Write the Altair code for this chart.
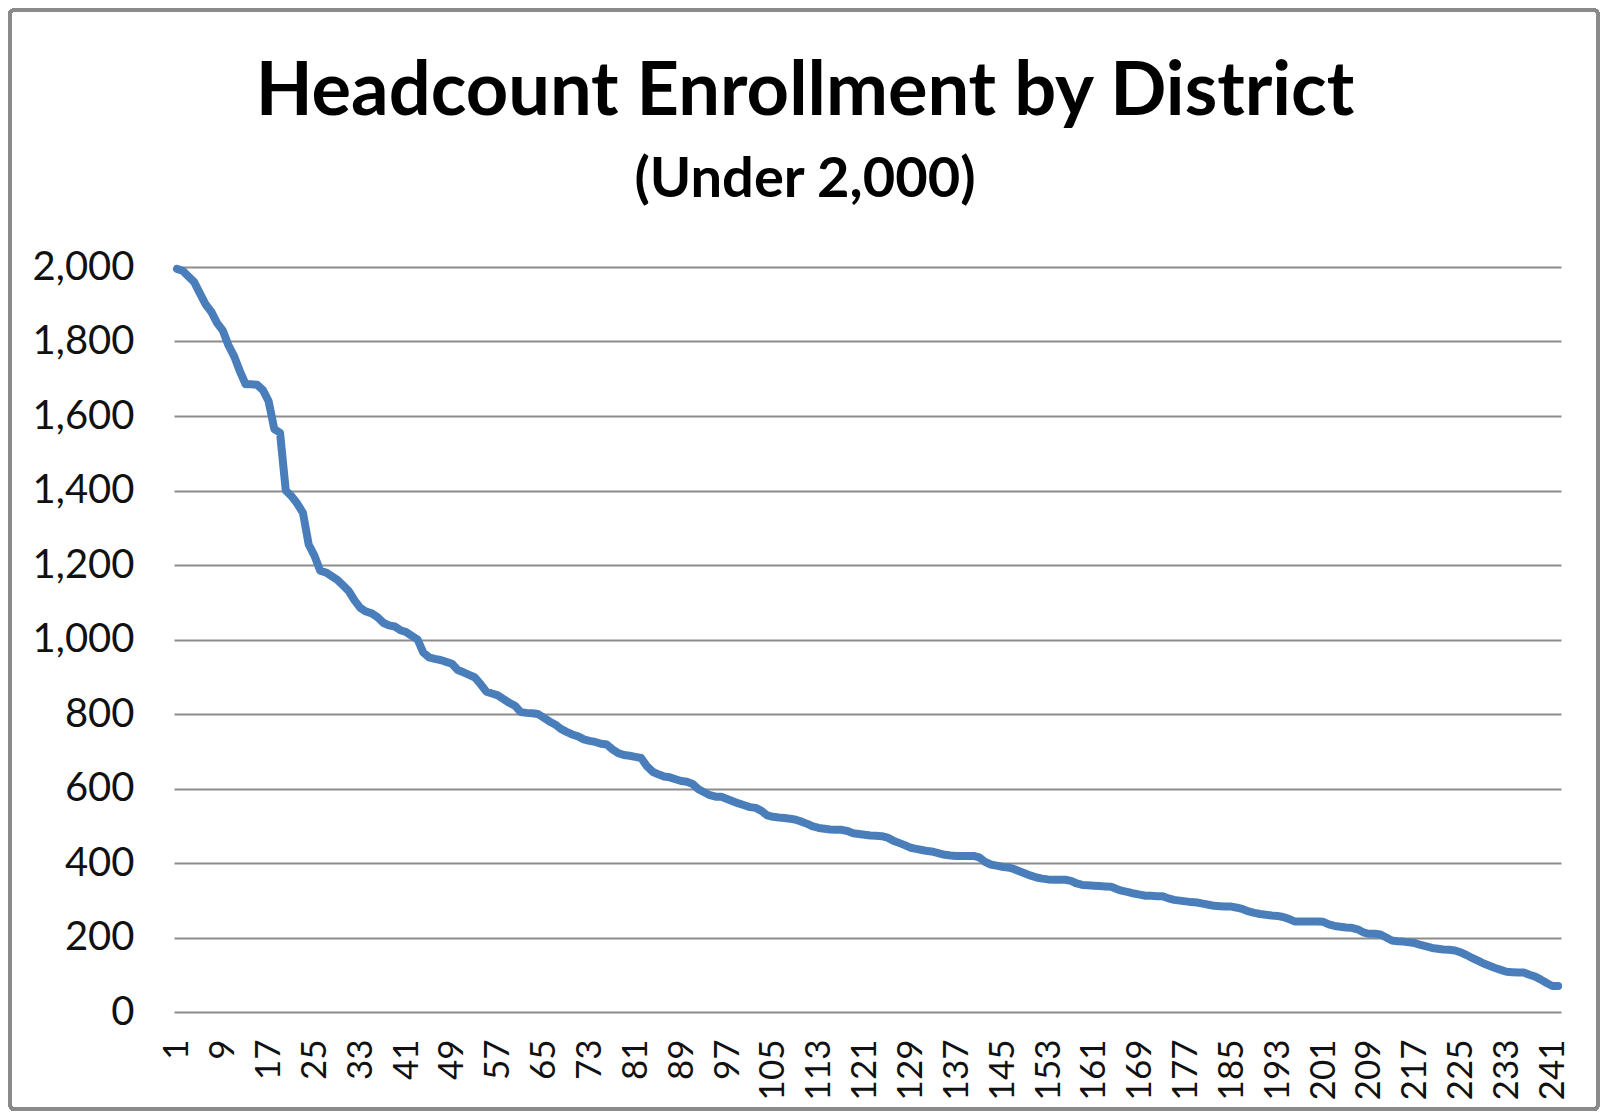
import altair as alt
import pandas as pd

enrollment = [
    1995, 1990, 1975, 1960, 1930, 1900, 1880, 1850, 1830, 1790,
    1760, 1720, 1685, 1685, 1684, 1670, 1640, 1565, 1555, 1400,
    1385, 1365, 1340, 1255, 1225, 1185, 1180, 1170, 1160, 1145,
    1130, 1105, 1085, 1075, 1070, 1060, 1045, 1038, 1035, 1025,
    1020, 1010, 1000, 965, 952, 948, 945, 940, 935, 918,
    912, 905, 898, 880, 860, 855, 850, 840, 830, 822,
    805, 803, 802, 800, 790, 780, 772, 760, 752, 745,
    740, 732, 728, 725, 720, 718, 705, 695, 690, 688,
    685, 682, 660, 645, 638, 632, 630, 625, 620, 618,
    612, 598, 590, 582, 578, 578, 572, 566, 560, 555,
    550, 548, 540, 528, 524, 522, 521, 519, 516, 511,
    505, 498, 494, 492, 490, 489, 489, 486, 480, 478,
    476, 474, 473, 472, 468, 460, 454, 448, 441, 438,
    435, 432, 430, 426, 422, 420, 419, 419, 419, 419,
    415, 403, 396, 393, 390, 388, 384, 378, 372, 366,
    361, 358, 356, 355, 355, 355, 352, 345, 341, 340,
    339, 338, 337, 336, 330, 325, 322, 318, 315, 312,
    312, 311, 311, 305, 301, 299, 297, 295, 294, 291,
    288, 285, 284, 283, 283, 280, 276, 270, 266, 263,
    261, 259, 258, 255, 250, 243, 243, 243, 243, 243,
    242, 235, 231, 229, 227, 226, 222, 214, 210, 210,
    208, 200, 192, 190, 189, 187, 185, 180, 176, 172,
    170, 168, 167, 165, 160, 153, 145, 138, 130, 124,
    118, 113, 108, 107, 106, 106, 100, 95, 87, 78,
    70, 70,
]
district = list(range(1, len(enrollment) + 1))
x_tick_labels = list(range(1, 242, 8))
y_ticks = [0, 200, 400, 600, 800, 1000, 1200, 1400, 1600, 1800, 2000]

title_text = ["Headcount Enrollment by District"]
subtitle_text = ["(Under 2,000)"]

df = pd.DataFrame({"district": district, "enrollment": enrollment})

FONT = "Lato"
W, H = 1387, 745

line = alt.Chart(df).mark_line(
    color="#4a7ebb", strokeWidth=8, strokeJoin="round", strokeCap="round"
).encode(
    x=alt.X(
        "district:Q",
        scale=alt.Scale(domain=[0.5, len(enrollment) + 0.5], nice=False, zero=False),
        axis=alt.Axis(
            values=x_tick_labels,
            labelAngle=-90,
            labelFontSize=35,
            labelFont=FONT,
            labelColor="#111111",
            labelPadding=27,
            ticks=False,
            domain=False,
            grid=False,
            title=None,
            labelOverlap=False,
        ),
    ),
    y=alt.Y(
        "enrollment:Q",
        scale=alt.Scale(domain=[0, 2000], nice=False),
        axis=alt.Axis(
            values=y_ticks,
            format=",d",
            labelFontSize=40,
            labelFont=FONT,
            labelColor="#111111",
            labelPadding=40,
            ticks=False,
            domain=False,
            grid=True,
            gridColor="#8c8c8c",
            gridWidth=2.2,
            title=None,
        ),
    ),
)

frame = alt.Chart(df).mark_rect(
    fill=None, stroke="#8a8a8a", strokeWidth=3, cornerRadius=4
).encode(
    x=alt.value(-164),
    x2=alt.value(W + 37),
    y=alt.value(-257),
    y2=alt.value(H + 97),
)

title = alt.Chart(pd.DataFrame({"t": title_text})).mark_text(
    font=FONT, fontSize=74, fontWeight="bold", color="#000000",
    align="center", baseline="alphabetic",
).encode(text="t:N", x=alt.value(631), y=alt.value(-152))

subtitle = alt.Chart(pd.DataFrame({"t": subtitle_text})).mark_text(
    font=FONT, fontSize=56, fontWeight="bold", color="#000000",
    align="center", baseline="alphabetic",
).encode(text="t:N", x=alt.value(631), y=alt.value(-70))

chart = alt.layer(frame, line, title, subtitle).properties(
    width=W,
    height=H,
    padding={"left": 166, "top": 259, "right": 39, "bottom": 99},
    autosize=alt.AutoSizeParams(type="none"),
    background="white",
).configure_view(stroke=None)

chart.save("out.html", embed_options={"renderer": "svg", "actions": False})
